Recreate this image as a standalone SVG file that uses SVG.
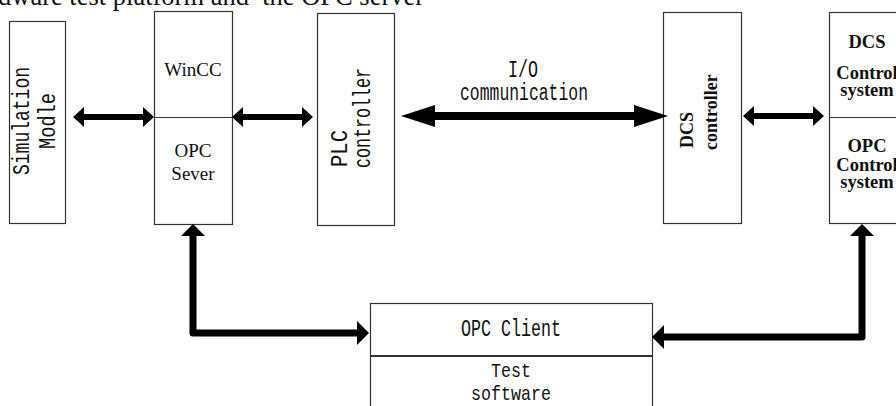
<svg xmlns="http://www.w3.org/2000/svg" width="896" height="406" viewBox="0 0 896 406">
  <defs>
    <style>
      .box { fill: #fff; stroke: #333; stroke-width: 1.2; }
      .div { stroke: #333; stroke-width: 1.2; fill: none; }
      .mono { font-family: "Liberation Mono", "Courier New", monospace; font-size: 23px; fill: #111; }
      .serif { font-family: "Liberation Serif", "Times New Roman", serif; font-size: 19px; fill: #111; }
      .bold { font-family: "Liberation Serif", "Times New Roman", serif; font-size: 18.5px; font-weight: bold; fill: #111; }
      .title { font-family: "Liberation Serif", "Times New Roman", serif; font-size: 26.5px; fill: #111; }
      .shaft { fill: none; stroke: #000; stroke-linejoin: round; }
      .mid { text-anchor: middle; }
    </style>
    <marker id="hs" viewBox="0 -10 11 20" refX="0" refY="0" markerWidth="11" markerHeight="20" markerUnits="userSpaceOnUse" orient="auto-start-reverse">
      <path d="M0,-10 L11,0 L0,10 Z" fill="#000"/>
    </marker>
    <marker id="hl" viewBox="0 -11 34 22" refX="0" refY="0" markerWidth="34" markerHeight="22" markerUnits="userSpaceOnUse" orient="auto-start-reverse">
      <path d="M0,-11 L34,0 L0,11 Z" fill="#000"/>
    </marker>
    <marker id="hm" viewBox="0 -12 12 24" refX="0" refY="0" markerWidth="12" markerHeight="24" markerUnits="userSpaceOnUse" orient="auto-start-reverse">
      <path d="M0,-12 L12,0 L0,12 Z" fill="#000"/>
    </marker>
  </defs>

  <rect width="896" height="406" fill="#fff"/>

  <!-- caption line running off the top edge -->
  <text class="title" x="-2" y="5" xml:space="preserve">dware test platform and  the OPC server</text>

  <g id="simulation-model">
    <rect class="box" x="9.5" y="21.5" width="56" height="202"/>
    <text class="mono mid" transform="translate(29,121) rotate(-90)" textLength="108" lengthAdjust="spacingAndGlyphs">Simulation</text>
    <text class="mono mid" transform="translate(55,121) rotate(-90)" textLength="56" lengthAdjust="spacingAndGlyphs">Modle</text>
  </g>

  <g id="wincc-opc-server">
    <rect class="box" x="154.5" y="11.5" width="78" height="213"/>
    <line class="div" x1="154.5" y1="117.5" x2="232.5" y2="117.5"/>
    <text class="serif mid" x="193" y="76">WinCC</text>
    <text class="serif mid" x="193" y="157">OPC</text>
    <text class="serif mid" x="193" y="180">Sever</text>
  </g>

  <g id="plc-controller">
    <rect class="box" x="317.5" y="13.5" width="77" height="212"/>
    <text class="mono" transform="translate(347,167) rotate(-90)" textLength="37" lengthAdjust="spacingAndGlyphs">PLC</text>
    <text class="mono" transform="translate(370,168) rotate(-90)" textLength="100" lengthAdjust="spacingAndGlyphs">controller</text>
  </g>

  <g id="io-label">
    <text class="mono mid" x="523" y="77" textLength="30" lengthAdjust="spacingAndGlyphs">I/O</text>
    <text class="mono mid" x="524" y="100" textLength="128" lengthAdjust="spacingAndGlyphs">communication</text>
  </g>

  <g id="dcs-controller">
    <rect class="box" x="663.5" y="12.5" width="78" height="211"/>
    <text class="bold" style="font-size:18px" transform="translate(693,148) rotate(-90)">DCS</text>
    <text class="bold" style="font-size:18px" transform="translate(717,150) rotate(-90)">controller</text>
  </g>

  <g id="control-systems">
    <rect class="box" x="829.5" y="12.5" width="80" height="211"/>
    <line class="div" x1="829.5" y1="117.5" x2="896" y2="117.5"/>
    <text class="bold mid" x="867" y="48">DCS</text>
    <text class="bold mid" x="867" y="79">Control</text>
    <text class="bold mid" x="867" y="96">system</text>
    <text class="bold mid" x="867" y="152">OPC</text>
    <text class="bold mid" x="867" y="171">Control</text>
    <text class="bold mid" x="867" y="188">system</text>
  </g>

  <g id="opc-client">
    <rect class="box" x="370.5" y="303.5" width="282" height="120"/>
    <line class="div" x1="370.5" y1="356" x2="652.5" y2="356" style="stroke-width:1.8"/>
    <text class="mono mid" x="511" y="336" textLength="100" lengthAdjust="spacingAndGlyphs">OPC Client</text>
    <text class="mono mid" style="font-size:21px" x="511" y="377" textLength="40" lengthAdjust="spacingAndGlyphs">Test</text>
    <text class="mono mid" style="font-size:21px" x="511" y="400" textLength="80" lengthAdjust="spacingAndGlyphs">software</text>
  </g>

  <g id="connectors">
    <path class="shaft" d="M84,117 H143" stroke-width="6" marker-start="url(#hs)" marker-end="url(#hs)"/>
    <path class="shaft" d="M243,117 H302" stroke-width="6" marker-start="url(#hs)" marker-end="url(#hs)"/>
    <path class="shaft" d="M435,116 H634" stroke-width="8" marker-start="url(#hl)" marker-end="url(#hl)"/>
    <path class="shaft" d="M754,116 H813" stroke-width="6" marker-start="url(#hs)" marker-end="url(#hs)"/>
    <path class="shaft" d="M193,236 V333 H357" stroke-width="7" marker-start="url(#hm)" marker-end="url(#hm)"/>
    <path class="shaft" d="M862,236 V337 H664" stroke-width="7" marker-start="url(#hm)" marker-end="url(#hm)"/>
  </g>
</svg>
